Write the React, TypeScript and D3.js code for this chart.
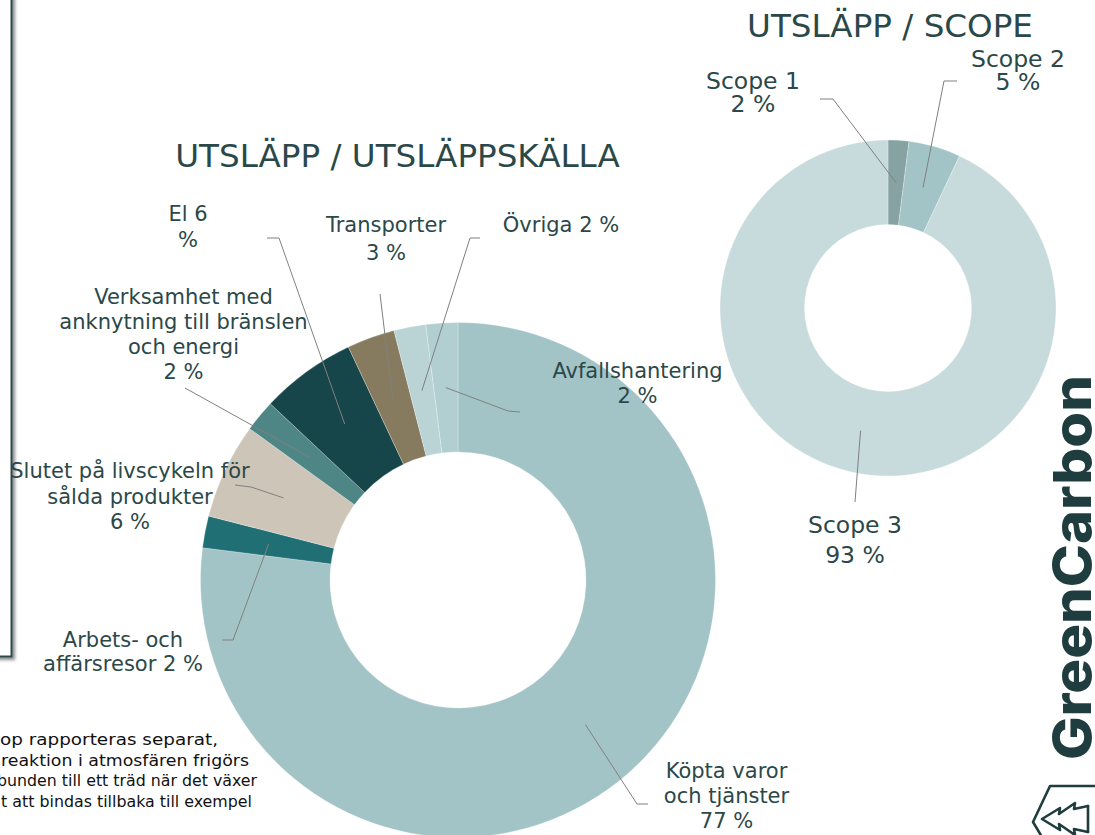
import React from "react";
import * as d3 from "d3";

// ---------- data ----------
const sourceCategories = [
  "Köpta varor och tjänster",
  "Arbets- och affärsresor",
  "Slutet på livscykeln för sålda produkter",
  "Verksamhet med anknytning till bränslen och energi",
  "El",
  "Transporter",
  "Övriga",
  "Avfallshantering",
];
const sourceValues = [77, 2, 6, 2, 6, 3, 2, 2];
const sourceLabelLines = [
  ["Köpta varor", "och tjänster", "77 %"],
  ["Arbets- och", "affärsresor 2 %"],
  ["Slutet på livscykeln för", "sålda produkter", "6 %"],
  ["Verksamhet med", "anknytning till bränslen", "och energi", "2 %"],
  ["El 6", "%"],
  ["Transporter", "3 %"],
  ["Övriga 2 %"],
  ["Avfallshantering", "2 %"],
];

const scopeCategories = ["Scope 1", "Scope 2", "Scope 3"];
const scopeValues = [2, 5, 93];
const scopeLabelLines = [
  ["Scope 1", "2 %"],
  ["Scope 2", "5 %"],
  ["Scope 3", "93 %"],
];

const titles = ["UTSLÄPP / UTSLÄPPSKÄLLA", "UTSLÄPP / SCOPE"];
const footnoteLines = [
  "op rapporteras separat,",
  "reaktion i atmosfären frigörs",
  "bunden till ett träd när det växer",
  "t att bindas tillbaka till exempel",
];
const logoText = "GreenCarbon";

// ---------- styles / layout ----------
const sourceColors = ["#a3c4c6", "#206f74", "#cdc5b8", "#4e8585", "#16454a", "#867b5e", "#bad4d6", "#b1cfd1"];
const scopeColors = ["#86a2a3", "#a3c4c6", "#c8dbdc"];
const textColor = "#2b4849";
const leadColor = "#808080";
const FONT = "'DejaVu Sans', Verdana, sans-serif";

const sourceLayout = [
  { x: 726.5, y: 778, dy: 25, lead: [[648, 804], [637, 804]] },
  { x: 123, y: 647, dy: 23.5, lead: [[222, 640], [233, 640]] },
  { x: 130, y: 478, dy: 25.5, lead: [[235, 485], [251, 487]] },
  { x: 183.5, y: 303.5, dy: 25, lead: [[185, 388]] },
  { x: 188, y: 220.5, dy: 26.5, lead: [[267, 238], [279, 238]] },
  { x: 386, y: 232, dy: 28, lead: [[380, 294]] },
  { x: 561, y: 232, dy: 0, lead: [[480, 238], [470, 238]] },
  { x: 637.5, y: 378, dy: 25, lead: [[520, 412], [508, 411]] },
];
const scopeLayout = [
  { x: 753, y: 89, dy: 23, lead: [[820, 99], [833, 99]] },
  { x: 1018, y: 67, dy: 22.5, lead: [[957, 81], [944, 81]] },
  { x: 855, y: 533, dy: 29.5, lead: [[855, 502]] },
];
const footLayout = [
  { x: 0, end: 218, y: 745 },
  { x: 1, end: 249, y: 766 },
  { x: -3, end: 257, y: 786 },
  { x: 1, end: 252, y: 807 },
];

type Donut = {
  cx: number; cy: number; ri: number; ro: number;
  values: number[]; colors: string[]; names: string[];
  lines: string[][]; layout: { x: number; y: number; dy: number; lead: number[][] }[];
  fontSize: number;
};

function DonutChart({ cx, cy, ri, ro, values, colors, names, lines, layout, fontSize }: Donut) {
  const pie = d3.pie<number>().sort(null).value((d) => d).startAngle(0).endAngle(2 * Math.PI);
  const arcs = pie(values);
  const arc = d3.arc<d3.PieArcDatum<number>>().innerRadius(ri).outerRadius(ro);
  const line = d3.line();
  return (
    <g>
      <g transform={`translate(${cx},${cy})`}>
        {arcs.map((a, i) => (
          <path key={names[i]} d={arc(a) || ""} fill={colors[i]} stroke="#ffffff" strokeOpacity={0.35} strokeWidth={0.75} />
        ))}
      </g>
      {arcs.map((a, i) => {
        const c = arc.centroid(a);
        const pts = [...layout[i].lead, [cx + c[0], cy + c[1]]] as [number, number][];
        return <path key={"l" + i} d={line(pts) || ""} fill="none" stroke={leadColor} strokeWidth={1} />;
      })}
      {lines.map((ls, i) => (
        <text key={"t" + i} x={layout[i].x} y={layout[i].y} textAnchor="middle" fontFamily={FONT} fontSize={fontSize} fill={textColor}>
          {ls.map((s, j) => (
            <tspan key={j} x={layout[i].x} y={layout[i].y + j * layout[i].dy}>{s}</tspan>
          ))}
        </text>
      ))}
    </g>
  );
}

export default function App() {
  return (
    <svg width={1095} height={835} style={{ position: "absolute", left: 0, top: 0, background: "#ffffff" }}>
      <defs>
        <filter id="sh" x="-50%" y="-5%" width="200%" height="110%">
          <feDropShadow dx="2.5" dy="2.5" stdDeviation="1.6" floodColor="#000" floodOpacity="0.45" />
        </filter>
      </defs>
      <rect x={0} y={0} width={1095} height={835} fill="#ffffff" />
      {/* left panel edge */}
      <rect x={-10} y={-10} width={21.5} height={666.5} fill="#ffffff" stroke="#2f4a4a" strokeWidth={2} filter="url(#sh)" />

      {/* titles */}
      <text x={397.5} y={167} textAnchor="middle" fontFamily={FONT} fontSize={32.6} fill={textColor}>{titles[0]}</text>
      <text x={890} y={37} textAnchor="middle" fontFamily={FONT} fontSize={32.6} fill={textColor}>{titles[1]}</text>

      <DonutChart cx={458} cy={580} ri={128} ro={257.5} values={sourceValues} colors={sourceColors}
        names={sourceCategories} lines={sourceLabelLines} layout={sourceLayout} fontSize={21} />
      <DonutChart cx={888} cy={308} ri={83.5} ro={168} values={scopeValues} colors={scopeColors}
        names={scopeCategories} lines={scopeLabelLines} layout={scopeLayout} fontSize={23.5} />

      {/* footnote (cut off at left) */}
      {footnoteLines.map((s, i) => (
        <text key={"f" + i} x={footLayout[i].x} y={footLayout[i].y} fontFamily={FONT} fontSize={15.5}
          fill="#111111" textLength={footLayout[i].end - footLayout[i].x} lengthAdjust="spacingAndGlyphs">{s}</text>
      ))}

      {/* logo */}
      <text transform="translate(1091,760) rotate(-90)" fontFamily="Inter, 'Open Sans', sans-serif" fontWeight={800}
        fontSize={52} fill="#1f3d3e" textLength={385} lengthAdjust="spacingAndGlyphs">{logoText}</text>
      <g fill="none" stroke="#1f3d3e" strokeWidth={2.6} strokeLinejoin="round" strokeLinecap="round">
        <path d="M1097,786 L1050,786 L1033,822 L1045,842" />
        <path d="M1088,806 L1074,809 L1075,803 L1059,814 L1060,808 L1042,819 L1060,830 L1059,824 L1075,835 L1074,829 L1088,832" />
        <path d="M1088,806 L1088,832" />
      </g>
    </svg>
  );
}
